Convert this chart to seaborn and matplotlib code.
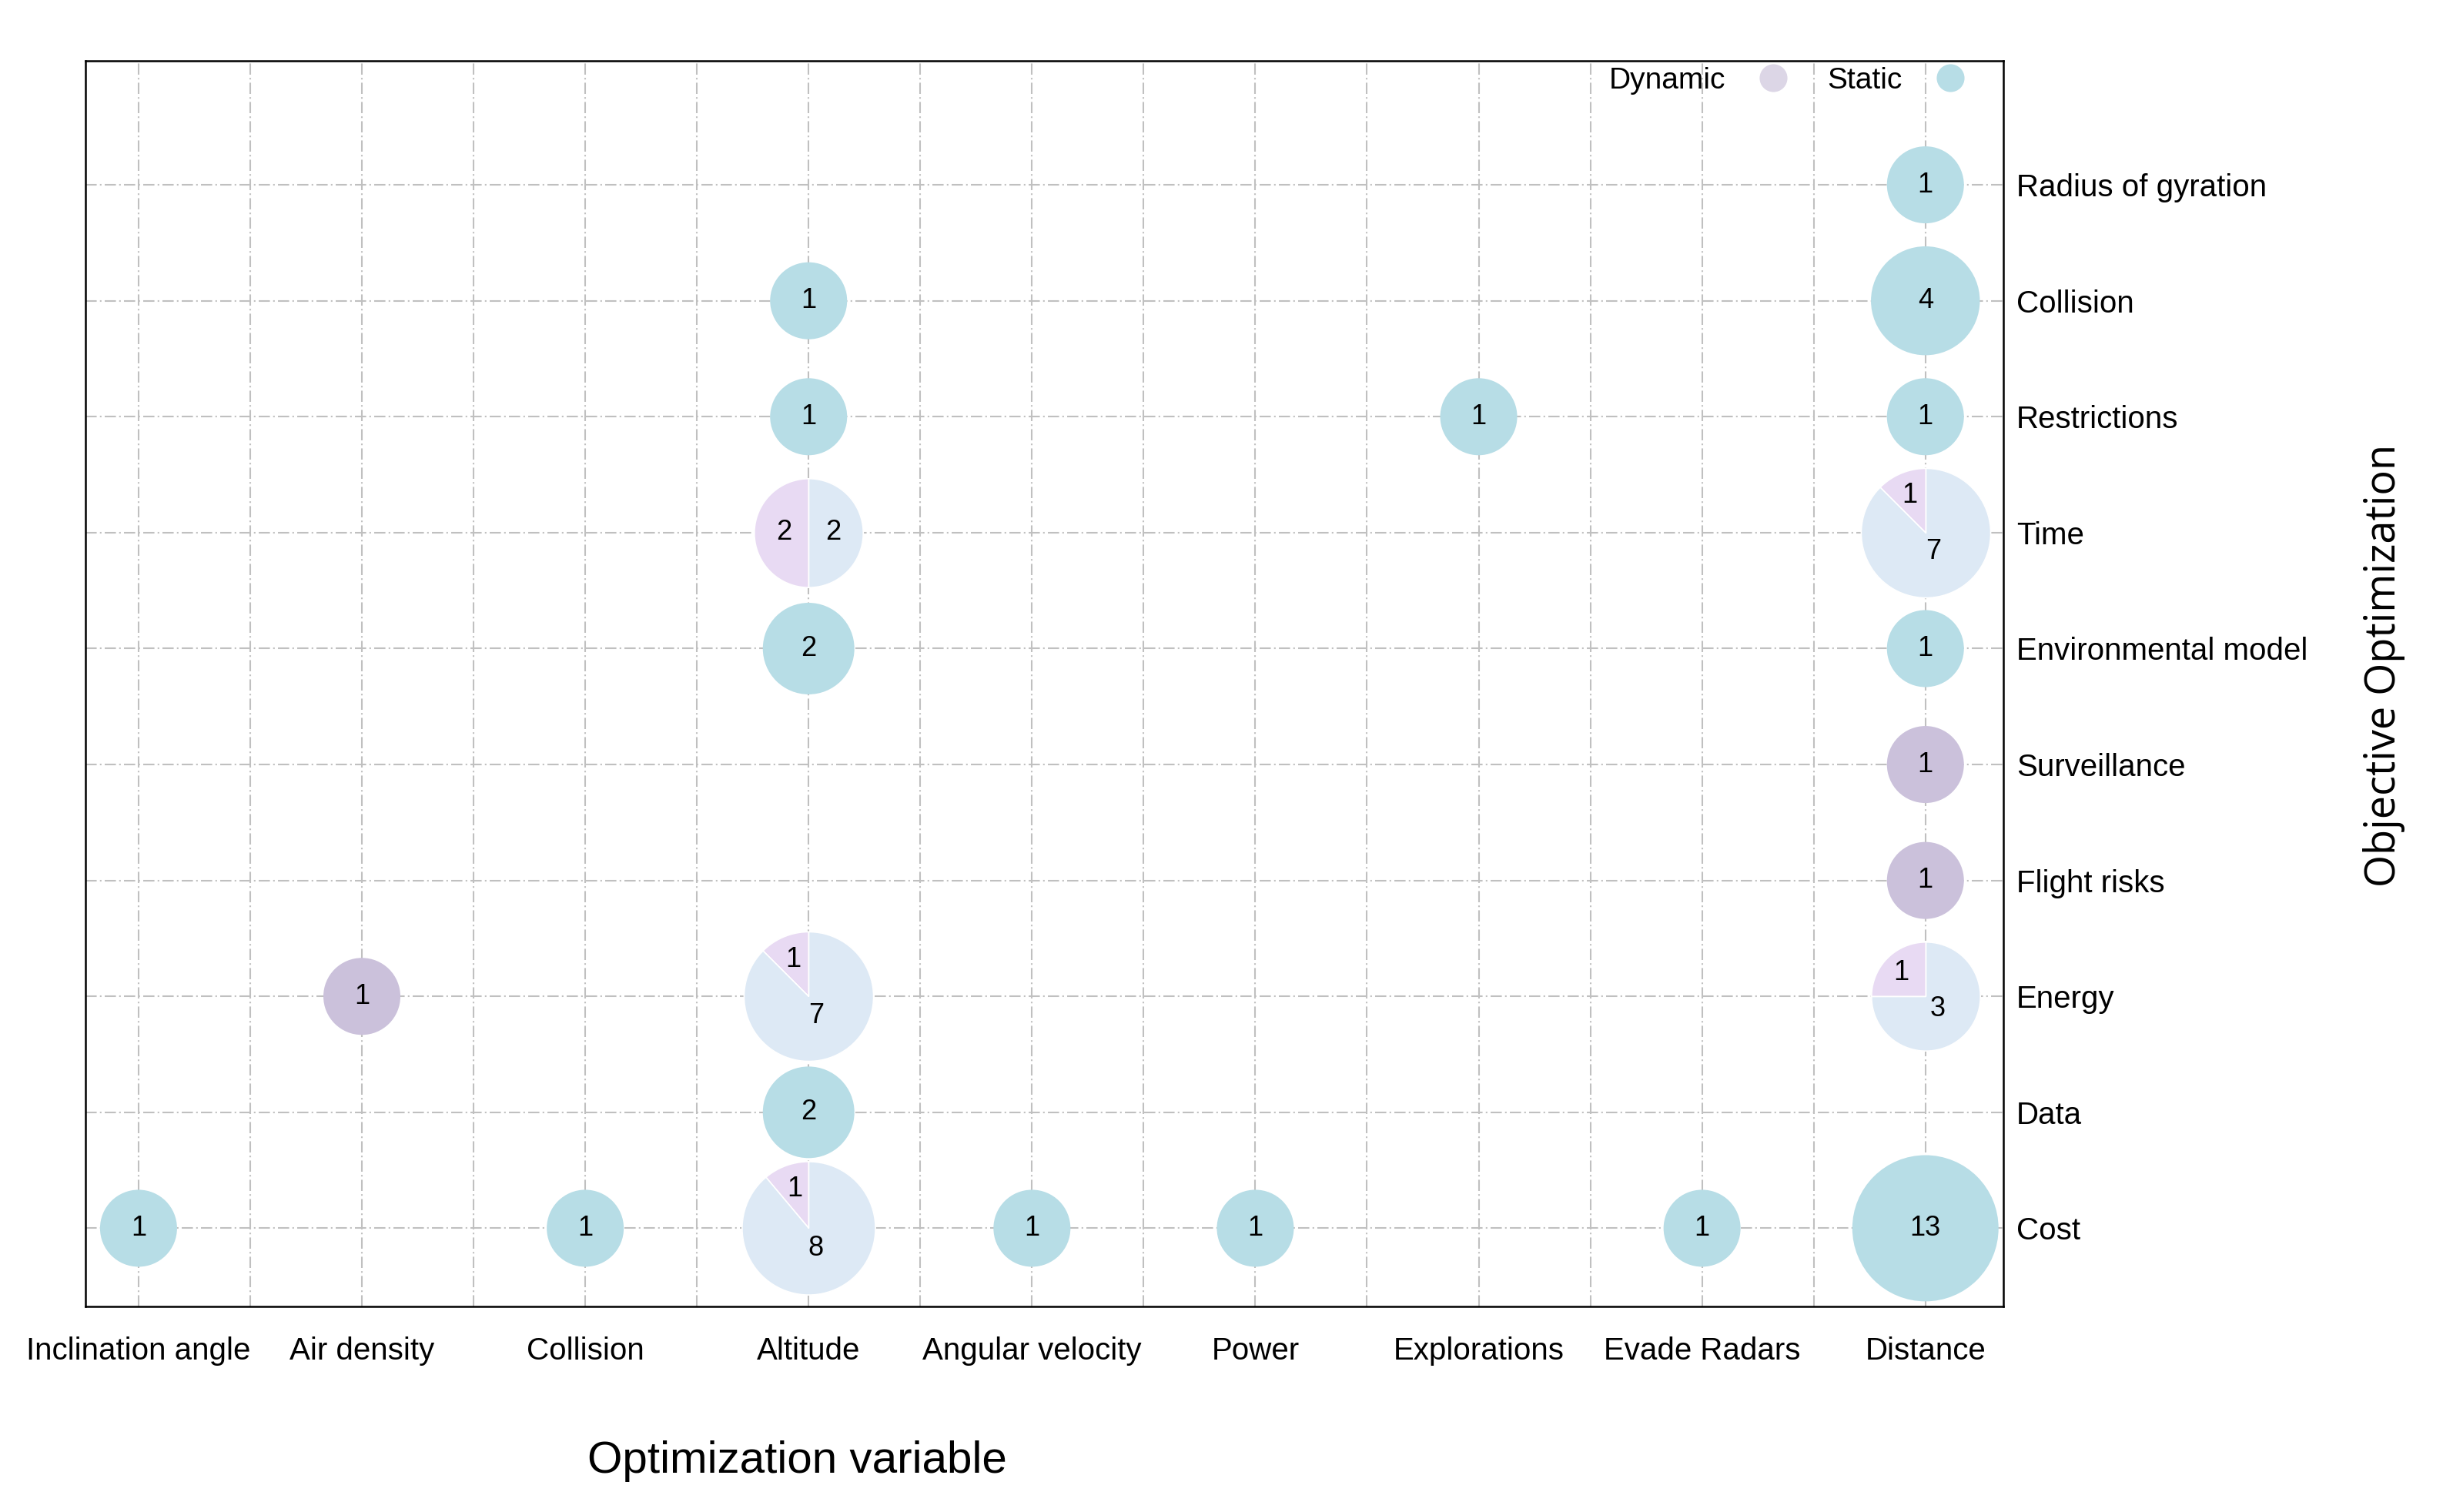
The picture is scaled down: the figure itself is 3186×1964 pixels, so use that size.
import numpy as np
import pandas as pd
import matplotlib
matplotlib.use("Agg")
import matplotlib.pyplot as plt
import seaborn as sns
from matplotlib.lines import Line2D

# categories
variables = ["Inclination angle", "Air density", "Collision", "Altitude", "Angular velocity",
             "Power", "Explorations", "Evade Radars", "Distance"]
objectives = ["Radius of gyration", "Collision", "Restrictions", "Time", "Environmental model",
              "Surveillance", "Flight risks", "Energy", "Data", "Cost"]

# one entry per bubble: optimization variable, objective, dynamic count, static count
cell_var = ["Distance", "Altitude", "Distance", "Altitude", "Explorations", "Distance",
            "Altitude", "Distance", "Altitude", "Distance", "Distance", "Distance",
            "Air density", "Altitude", "Distance", "Altitude", "Inclination angle", "Collision",
            "Altitude", "Angular velocity", "Power", "Evade Radars", "Distance"]
cell_obj = ["Radius of gyration", "Collision", "Collision", "Restrictions", "Restrictions", "Restrictions",
            "Time", "Time", "Environmental model", "Environmental model", "Surveillance", "Flight risks",
            "Energy", "Energy", "Energy", "Data", "Cost", "Cost",
            "Cost", "Cost", "Cost", "Cost", "Cost"]
dynamic = [0, 0, 0, 0, 0, 0, 2, 1, 0, 0, 1, 1, 1, 1, 1, 0, 0, 0, 1, 0, 0, 0, 0]
static = [1, 1, 4, 1, 1, 1, 2, 7, 2, 1, 0, 0, 0, 7, 3, 2, 1, 1, 8, 1, 1, 1, 13]

# colours
solid_colors = {"Static": "#B7DDE6", "Dynamic": "#CBC1DB"}
pie_dynamic = "#E8DAF3"
pie_static = "#DDE9F5"
legend_colors = {"Dynamic": "#DCD6E6", "Static": "#B7DDE6"}
grid_color = "#C0C0C0"
grid_ls = (0, (7, 2, 1, 2))

sns.set_style("white")
plt.rcParams["font.family"] = ["Liberation Sans", "DejaVu Sans"]
plt.rcParams["text.color"] = "black"
plt.rcParams["xtick.color"] = "black"
plt.rcParams["ytick.color"] = "black"

df = pd.DataFrame({"variable": cell_var, "objective": cell_obj,
                   "dynamic": dynamic, "static": static})
df["total"] = df["dynamic"] + df["static"]
df["x"] = pd.Categorical(df["variable"], categories=variables).codes
df["y"] = pd.Categorical(df["objective"], categories=objectives).codes

base = 36.0 ** 2  # marker area (pt^2) of a bubble with one paper
sizes = {t: base * np.sqrt(t) for t in sorted(df["total"].unique())}

fig = plt.figure(figsize=(15.93, 9.82), dpi=200)
ax = fig.add_axes([0.0348, 0.1359, 0.7819, 0.8239])

# bubbles with a single kind
solid = df[(df["dynamic"] == 0) | (df["static"] == 0)].copy()
solid["kind"] = np.where(solid["dynamic"] > 0, "Dynamic", "Static")
sns.scatterplot(data=solid, x="x", y="y", hue="kind", size="total", sizes=sizes,
                palette=solid_colors, linewidth=0, legend=False, ax=ax, zorder=3)
for _, r in solid.iterrows():
    ax.text(r["x"], r["y"], str(r["total"]), ha="center", va="center", fontsize=13, zorder=5)


def wedge(theta1, theta2, n=80):
    t = np.radians(np.linspace(theta1, theta2, n))
    return np.column_stack([np.r_[0, np.cos(t), 0], np.r_[0, np.sin(t), 0]])


# bubbles split in dynamic / static
mixed = df[(df["dynamic"] > 0) & (df["static"] > 0)]
for _, r in mixed.iterrows():
    s = sizes[r["total"]]
    rad = 0.5 * np.sqrt(s)
    f = r["dynamic"] / r["total"]
    split = 90 + 360 * f
    parts = [(90, split, pie_dynamic, r["dynamic"], f), (split, 450, pie_static, r["static"], 1 - f)]
    for a1, a2, col, val, frac in parts:
        ax.scatter([r["x"]], [r["y"]], s=s, marker=wedge(a1, a2), color=col,
                   edgecolors="white", linewidths=0.6, zorder=3)
        mid = np.radians((a1 + a2) / 2)
        d = 0.62 if frac < 0.5 else (0.45 if frac == 0.5 else 0.32)
        ax.annotate(str(val), (r["x"], r["y"]), xytext=(d * rad * np.cos(mid), d * rad * np.sin(mid)),
                    textcoords="offset points", ha="center", va="center", fontsize=13, zorder=5)

# axes, ticks, grid
ax.set_xlim(-0.238, 8.349)
ax.set_ylim(9.675, -1.07)
ax.set_xticks(range(len(variables)))
ax.set_xticklabels(variables)
ax.set_xticks(np.arange(0.5, len(variables) - 1, 1), minor=True)
ax.set_yticks(range(len(objectives)))
ax.set_yticklabels(objectives)
ax.yaxis.tick_right()
ax.tick_params(axis="both", which="both", length=0)
ax.tick_params(axis="x", labelsize=14.5, pad=14)
ax.tick_params(axis="y", labelsize=14.5, pad=6)
ax.set_xlabel("")
ax.set_ylabel("")
ax.set_axisbelow(True)
ax.grid(True, which="major", color=grid_color, linestyle=grid_ls, linewidth=0.75)
ax.grid(True, which="minor", axis="x", color=grid_color, linestyle=grid_ls, linewidth=0.75)
for sp in ax.spines.values():
    sp.set_visible(True)
    sp.set_color("black")
    sp.set_linewidth(0.9)

# legend
handles = [Line2D([], [], linestyle="none", marker="o", markersize=13,
                  markerfacecolor=legend_colors[k], markeredgewidth=0, label=k)
           for k in ["Dynamic", "Static"]]
ax.legend(handles=handles, loc="center right", bbox_to_anchor=(0.98, 0.984), ncol=2,
          markerfirst=False, frameon=False, fontsize=14, handlelength=1.0,
          handletextpad=1.1, columnspacing=1.3, borderpad=0, borderaxespad=0)

fig.text(0.325, 0.0336, "Optimization variable", ha="center", va="center", fontsize=21)
fig.text(0.972, 0.56, "Objective Optimization", rotation=90, ha="center", va="center",
         fontsize=19.5, family=["Open Sans", "DejaVu Sans"])

fig.savefig("out.png", dpi=200)
